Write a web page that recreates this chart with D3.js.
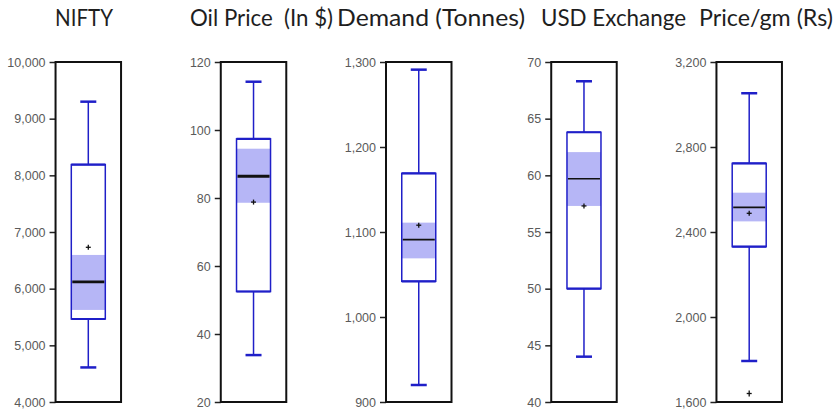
<!DOCTYPE html>
<html>
<head>
<meta charset="utf-8">
<script src="https://cdn.jsdelivr.net/npm/d3@7"></script>
<style>
  html, body { margin: 0; padding: 0; background: #fff; }
  svg { display: block; }
  .title { font-family: Lato, "Open Sans", sans-serif; font-size: 23px; fill: #1e1e1e; white-space: pre; }
  .tick text { font-family: "Liberation Sans", Arial, sans-serif; font-size: 12.5px; fill: #5a5a5a; }
  .tick line { stroke: #222; stroke-width: 1.5px; }
</style>
</head>
<body>
<svg id="chart" width="838" height="409"></svg>
<script>
// Summary statistics for each variable
const categories  = ["NIFTY", "Oil Price  (In $)", "Demand (Tonnes)", "USD Exchange", "Price/gm (Rs)"];
const lowWhisker  = [4610, 33.8, 920, 44.0, 1793];
const q1          = [5465, 52.5, 1042, 50.0, 2331];
const notchLow    = [5625, 78.6, 1069, 57.3, 2450];
const median      = [6120, 86.4, 1091, 59.7, 2516];
const notchHigh   = [6595, 94.5, 1111, 62.05, 2585];
const q3          = [8190, 97.4, 1169, 63.8, 2723];
const highWhisker = [9300, 114.2, 1291, 68.3, 3053];
const mean        = [6730, 78.8, 1108, 57.3, 2488];
const outliers    = [[], [], [], [], [1640]];

// Axis extents and tick spacing per panel
const axisMin  = [4000, 20, 900, 40, 1600];
const axisMax  = [10000, 120, 1300, 70, 3200];
const tickStep = [1000, 20, 100, 5, 400];

// Layout
const W = 838, H = 409;
const frameTop = 62, frameBottom = 402;
const frameW = 65.5, boxW = 34, capW = 16;
const titleStart = [55, 190, 337, 541, 699];
const titleWidth = [58, 143, 188, 145, 134];
const blue = "#1f1fc8", shade = "#b6b6f6";

const svg = d3.select("#chart");
svg.append("rect").attr("width", W).attr("height", H).attr("fill", "#fff");

const xPanel = d3.scalePoint().domain(categories).range([88.3, 749.2]);

categories.forEach((cat, i) => {
  const cx = xPanel(cat);
  const y = d3.scaleLinear().domain([axisMin[i], axisMax[i]]).range([frameBottom, frameTop]);
  const g = svg.append("g");

  // title
  svg.append("text")
    .attr("class", "title")
    .attr("x", titleStart[i])
    .attr("y", 26)
    .attr("textLength", titleWidth[i])
    .attr("lengthAdjust", "spacingAndGlyphs")
    .text(cat);

  // frame background
  g.append("rect")
    .attr("x", cx - frameW / 2).attr("y", frameTop)
    .attr("width", frameW).attr("height", frameBottom - frameTop)
    .attr("fill", "#fff");

  // axis
  const ticks = d3.range(axisMin[i], axisMax[i] + tickStep[i] / 2, tickStep[i]);
  const ax = g.append("g")
    .attr("transform", `translate(${cx - frameW / 2},0)`)
    .call(d3.axisLeft(y).tickValues(ticks).tickFormat(d3.format(",")).tickSize(6).tickPadding(4).tickSizeOuter(0));
  ax.select(".domain").remove();

  // whiskers
  g.append("line")
    .attr("x1", cx).attr("x2", cx)
    .attr("y1", y(q3[i])).attr("y2", y(highWhisker[i]))
    .attr("stroke", blue).attr("stroke-width", 1.5);
  g.append("line")
    .attr("x1", cx).attr("x2", cx)
    .attr("y1", y(q1[i])).attr("y2", y(lowWhisker[i]))
    .attr("stroke", blue).attr("stroke-width", 1.5);
  [highWhisker[i], lowWhisker[i]].forEach(v => {
    g.append("line")
      .attr("x1", cx - capW / 2).attr("x2", cx + capW / 2)
      .attr("y1", y(v)).attr("y2", y(v))
      .attr("stroke", blue).attr("stroke-width", 2.5);
  });

  // box
  g.append("rect")
    .attr("x", cx - boxW / 2).attr("y", y(q3[i]))
    .attr("width", boxW).attr("height", y(q1[i]) - y(q3[i]))
    .attr("fill", "#fff");
  // median confidence band
  g.append("rect")
    .attr("x", cx - boxW / 2).attr("y", y(notchHigh[i]))
    .attr("width", boxW).attr("height", y(notchLow[i]) - y(notchHigh[i]))
    .attr("fill", shade);
  g.append("rect")
    .attr("x", cx - boxW / 2).attr("y", y(q3[i]))
    .attr("width", boxW).attr("height", y(q1[i]) - y(q3[i]))
    .attr("fill", "none").attr("stroke", blue).attr("stroke-width", 1.5);
  [q3[i], q1[i]].forEach(v => {
    g.append("line")
      .attr("x1", cx - boxW / 2).attr("x2", cx + boxW / 2)
      .attr("y1", y(v)).attr("y2", y(v))
      .attr("stroke", blue).attr("stroke-width", 2.2);
  });

  // median
  g.append("line")
    .attr("x1", cx - boxW / 2 + 1).attr("x2", cx + boxW / 2 - 1)
    .attr("y1", y(median[i])).attr("y2", y(median[i]))
    .attr("stroke", "#111").attr("stroke-width", i < 2 ? 2.8 : 1.6);

  // mean marker
  const mg = g.append("g").attr("transform", `translate(${cx},${y(mean[i])})`);
  mg.append("line").attr("x1", -2.5).attr("x2", 2.5).attr("stroke", "#111").attr("stroke-width", 1.3);
  mg.append("line").attr("y1", -2.5).attr("y2", 2.5).attr("stroke", "#111").attr("stroke-width", 1.3);

  // outliers
  outliers[i].forEach(v => {
    const og = g.append("g").attr("transform", `translate(${cx},${y(v)})`);
    og.append("line").attr("x1", -2.5).attr("x2", 2.5).attr("stroke", "#111").attr("stroke-width", 1.3);
    og.append("line").attr("y1", -3).attr("y2", 3).attr("stroke", "#111").attr("stroke-width", 1.3);
  });

  // frame
  g.append("rect")
    .attr("x", cx - frameW / 2).attr("y", frameTop)
    .attr("width", frameW).attr("height", frameBottom - frameTop)
    .attr("fill", "none").attr("stroke", "#111").attr("stroke-width", 2);
});
</script>
</body>
</html>
